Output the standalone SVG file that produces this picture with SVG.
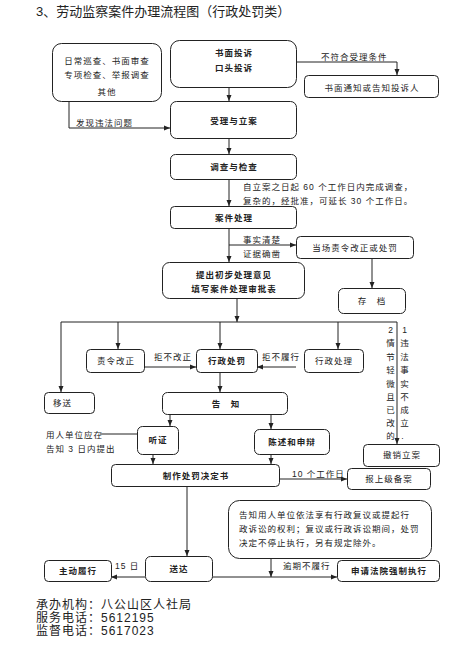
<svg xmlns="http://www.w3.org/2000/svg" width="470" height="646" viewBox="0 0 470 646">
<style>
text{font-family:"Liberation Sans","Noto Sans CJK SC",sans-serif;fill:#222}
.t{font-size:8.5px;letter-spacing:1px}
.c{text-anchor:middle}
.b{font-weight:bold}
.box{fill:#fff;stroke:#222;stroke-width:1}
.ln{fill:none;stroke:#222;stroke-width:1}
.big{font-size:13px}
.ft{font-size:12px;letter-spacing:1px}
</style>
<defs>
<marker id="ah" markerWidth="6" markerHeight="6" refX="6" refY="3" orient="auto" markerUnits="userSpaceOnUse">
<path d="M0,0.5 L6,3 L0,5.5 Z" fill="#222"/>
</marker>
</defs>
<rect width="470" height="646" fill="#fff"/>
<text class="big" x="36" y="16">3、劳动监察案件办理流程图（行政处罚类）</text>

<g id="connectors">
<path class="ln" marker-end="url(#ah)" d="M296,62 H397 V75"/>
<path class="ln" marker-end="url(#ah)" d="M229,87 V101"/>
<path class="ln" marker-end="url(#ah)" d="M69,102 V128 H170"/>
<path class="ln" marker-end="url(#ah)" d="M229,138 V154"/>
<path class="ln" marker-end="url(#ah)" d="M229,179 V206"/>
<path class="ln" marker-end="url(#ah)" d="M229,228 V262"/>
<path class="ln" marker-end="url(#ah)" d="M229,245 H296"/>
<path class="ln" marker-end="url(#ah)" d="M372,258 V288"/>
<path class="ln" marker-end="url(#ah)" d="M237,298 V322"/>
<path class="ln" d="M61,322 H397"/>
<path class="ln" marker-end="url(#ah)" d="M61,322 V392"/>
<path class="ln" marker-end="url(#ah)" d="M118,322 V349"/>
<path class="ln" marker-end="url(#ah)" d="M220,322 V349"/>
<path class="ln" marker-end="url(#ah)" d="M338,322 V349"/>
<path class="ln" marker-end="url(#ah)" d="M397,322 V444"/>
<path class="ln" marker-end="url(#ah)" d="M144,367 H196"/>
<path class="ln" marker-end="url(#ah)" d="M296,367 H257"/>
<path class="ln" marker-end="url(#ah)" d="M220,372 V392"/>
<path class="ln" marker-end="url(#ah)" d="M170,414 V426"/>
<path class="ln" marker-end="url(#ah)" d="M271,414 V429"/>
<path class="ln" d="M100,434 H137"/>
<path class="ln" marker-end="url(#ah)" d="M153,454 V464"/>
<path class="ln" marker-end="url(#ah)" d="M271,454 V464"/>
<path class="ln" marker-end="url(#ah)" d="M279,479 H347"/>
<path class="ln" marker-end="url(#ah)" d="M187,486 V556"/>
<path class="ln" marker-end="url(#ah)" d="M145,577 H111"/>
<path class="ln" marker-end="url(#ah)" d="M212,577 H337"/>
<path class="ln" marker-end="url(#ah)" d="M271,558 V577"/>
</g>

<g id="labels">
<text class="t" x="321" y="60">不符合受理条件</text>
<text class="t" x="76" y="126">发现违法问题</text>
<text class="t" x="243" y="190">自立案之日起 60 个工作日内完成调查，</text>
<text class="t" x="243" y="204">复杂的，经批准，可延长 30 个工作日。</text>
<text class="t" x="243" y="243">事实清楚</text>
<text class="t" x="243" y="257">证据确凿</text>
<text class="t" x="154" y="360">拒不改正</text>
<text class="t" x="262" y="360">拒不履行</text>
<text class="t" x="46" y="438">用人单位应在</text>
<text class="t" x="46" y="452">告知 3 日内提出</text>
<text class="t" x="292" y="477">10 个工作日</text>
<text class="t" x="115" y="569">15 日</text>
<text class="t" x="283" y="569">逾期不履行</text>
<text class="t c"><tspan x="391" y="333">2</tspan><tspan x="391" y="346">情</tspan><tspan x="391" y="360">节</tspan><tspan x="391" y="373">轻</tspan><tspan x="391" y="387">微</tspan><tspan x="391" y="400">且</tspan><tspan x="391" y="413">已</tspan><tspan x="391" y="426">改</tspan><tspan x="391" y="439">的</tspan></text>
<text class="t c"><tspan x="405" y="333">1</tspan><tspan x="405" y="346">违</tspan><tspan x="405" y="360">法</tspan><tspan x="405" y="373">事</tspan><tspan x="405" y="387">实</tspan><tspan x="405" y="400">不</tspan><tspan x="405" y="413">成</tspan><tspan x="405" y="426">立</tspan><tspan x="403" y="439">.</tspan></text>
</g>

<g id="nA"><rect class="box" x="52.5" y="43.5" width="109" height="58" rx="9"/>
<text class="t c" x="107" y="64">日常巡查、书面审查</text>
<text class="t c" x="107" y="78">专项检查、举报调查</text>
<text class="t c" x="107" y="95">其他</text></g>
<g id="nB"><rect class="box" x="170.5" y="40.5" width="126" height="47" rx="9"/>
<text class="t c b" x="234" y="56">书面投诉</text>
<text class="t c b" x="234" y="71">口头投诉</text></g>
<g id="nC"><rect class="box" x="304.5" y="75.5" width="134" height="22" rx="4"/>
<text class="t c" x="372" y="91">书面通知或告知投诉人</text></g>
<g id="nD"><rect class="box" x="170.5" y="101.5" width="126" height="37" rx="6"/>
<text class="t c b" x="234" y="124">受理与立案</text></g>
<g id="nE"><rect class="box" x="170.5" y="154.5" width="126" height="25" rx="5"/>
<text class="t c b" x="234" y="170">调查与检查</text></g>
<g id="nF"><rect class="box" x="170.5" y="206.5" width="126" height="22" rx="4"/>
<text class="t c b" x="234" y="221">案件处理</text></g>
<g id="nG"><rect class="box" x="296.5" y="236.5" width="117" height="22" rx="4"/>
<text class="t c" x="355" y="251">当场责令改正或处罚</text></g>
<g id="nH"><rect class="box" x="162.5" y="262.5" width="142" height="36" rx="7"/>
<text class="t c b" x="234" y="278">提出初步处理意见</text>
<text class="t c b" x="234" y="292">填写案件处理审批表</text></g>
<g id="nI"><rect class="box" x="338.5" y="288.5" width="67" height="25" rx="5"/>
<text class="t c" x="372" y="304">存　档</text></g>
<g id="nJ"><rect class="box" x="86.5" y="349.5" width="58" height="23" rx="4"/>
<text class="t c" x="116" y="364">责令改正</text></g>
<g id="nK"><rect class="box" x="196.5" y="349.5" width="61" height="23" rx="4"/>
<text class="t c b" x="227" y="364">行政处罚</text></g>
<g id="nL"><rect class="box" x="304.5" y="349.5" width="59" height="23" rx="4"/>
<text class="t c" x="334" y="364">行政处理</text></g>
<g id="nM"><rect class="box" x="44.5" y="392.5" width="50" height="21" rx="4"/>
<text class="t" x="53" y="406">移送</text></g>
<g id="nN"><rect class="box" x="162.5" y="392.5" width="125" height="22" rx="5"/>
<text class="t c b" x="226" y="407">告　知</text></g>
<g id="nO"><rect class="box" x="137.5" y="426.5" width="41" height="28" rx="5"/>
<text class="t c b" x="158" y="443">听证</text></g>
<g id="nP"><rect class="box" x="254.5" y="429.5" width="75" height="25" rx="5"/>
<text class="t c b" x="292" y="445">陈述和申辩</text></g>
<g id="nQ"><rect class="box" x="111.5" y="464.5" width="168" height="22" rx="4"/>
<text class="t c b" x="196" y="479">制作处罚决定书</text></g>
<g id="nR"><rect class="box" x="363.5" y="444.5" width="76" height="22" rx="4"/>
<text class="t c" x="402" y="458">撤销立案</text></g>
<g id="nS"><rect class="box" x="347.5" y="468.5" width="83" height="21" rx="4"/>
<text class="t c" x="389" y="482">报上级备案</text></g>
<g id="nT"><rect class="box" x="228.5" y="500.5" width="203" height="58" rx="11"/>
<text class="t" x="239" y="518">告知用人单位依法享有行政复议或提起行</text>
<text class="t" x="239" y="532">政诉讼的权利；复议或行政诉讼期间，处罚</text>
<text class="t" x="239" y="546">决定不停止执行，另有规定除外。</text></g>
<g id="nU"><rect class="box" x="145.5" y="556.5" width="67" height="25" rx="5"/>
<text class="t c b" x="179" y="572">送达</text></g>
<g id="nV"><rect class="box" x="44.5" y="560.5" width="67" height="21" rx="4"/>
<text class="t c b" x="78" y="574">主动履行</text></g>
<g id="nW"><rect class="box" x="337.5" y="560.5" width="102" height="21" rx="4"/>
<text class="t c b" x="389" y="574">申请法院强制执行</text></g>

<text class="ft" x="36" y="609">承办机构：八公山区人社局</text>
<text class="ft" x="36" y="622">服务电话：5612195</text>
<text class="ft" x="36" y="635">监督电话：5617023</text>
</svg>
